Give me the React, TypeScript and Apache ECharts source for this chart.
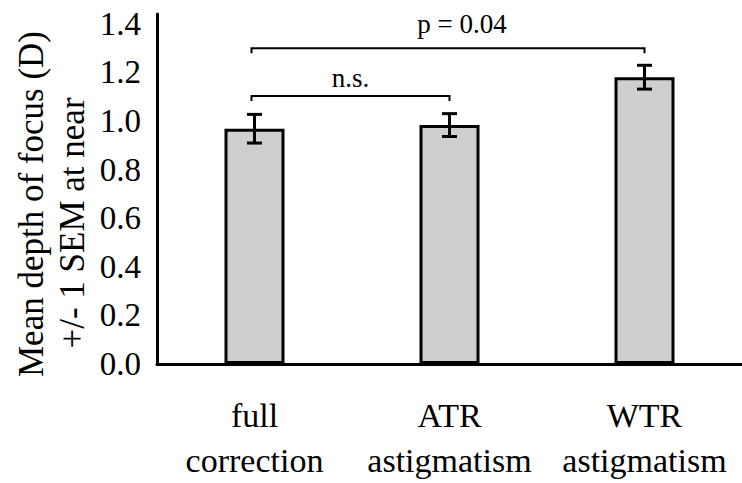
import { useEffect, useRef } from "react";
import * as echarts from "echarts";

// Mean depth of focus at near for each correction condition
const categories = ["full\ncorrection", "ATR\nastigmatism", "WTR\nastigmatism"];
const meanDof = [0.968, 0.983, 1.18];
const sem = [0.059, 0.047, 0.049];

// Significance brackets between conditions
const bracketFrom = [0, 0];
const bracketTo = [1, 2];
const bracketLevel = [1.103, 1.299];
const bracketLabel = ["n.s.", "p = 0.04"];
const labelLevel = [1.178, 1.4];

const yTitle = ["Mean depth of focus (D)", "+/- 1 SEM at near"];

const FONT = "Liberation Serif";

export default function App() {
  const ref = useRef<HTMLDivElement>(null);

  useEffect(() => {
    if (!ref.current) return;
    const chart = echarts.init(ref.current, undefined, { renderer: "svg" });

    const errorData = meanDof.map((m, i) => [i, m - sem[i], m + sem[i]]);
    const bracketData = bracketFrom.map((f, i) => [f, bracketTo[i], bracketLevel[i], labelLevel[i], i]);
    const labelShift = [0, 14];

    const option: echarts.EChartsOption = {
      animation: false,
      backgroundColor: "#ffffff",
      textStyle: { fontFamily: FONT },
      grid: { left: 157, right: 0, top: 14, bottom: 112.5, containLabel: false },
      xAxis: {
        type: "category",
        data: categories,
        axisLine: { show: true, lineStyle: { color: "#000", width: 3 } },
        axisTick: { show: false },
        splitLine: { show: false },
        axisLabel: {
          color: "#000",
          fontFamily: FONT,
          fontSize: 34,
          lineHeight: 45,
          margin: 29,
          interval: 0,
        },
      },
      yAxis: {
        type: "value",
        min: 0,
        max: 1.44,
        interval: 0.2,
        axisLine: { show: true, lineStyle: { color: "#000", width: 3 } },
        axisTick: { show: false },
        splitLine: { show: false },
        axisLabel: {
          color: "#000",
          fontFamily: FONT,
          fontSize: 33,
          margin: 16,
          showMaxLabel: false,
          formatter: (v: number) => (v > 1.41 ? "" : v.toFixed(1)),
        },
      },
      graphic: [
        {
          type: "text",
          x: 31,
          y: 204,
          rotation: Math.PI / 2,
          style: {
            text: yTitle[0],
            fontFamily: FONT,
            fontSize: 35,
            fill: "#000",
            align: "center",
            verticalAlign: "middle",
          },
        },
        {
          type: "text",
          x: 72,
          y: 223,
          rotation: Math.PI / 2,
          style: {
            text: yTitle[1],
            fontFamily: FONT,
            fontSize: 35,
            fill: "#000",
            align: "center",
            verticalAlign: "middle",
          },
        },
      ],
      series: [
        {
          type: "bar",
          data: meanDof,
          barWidth: 60,
          itemStyle: { color: "#d0cece", borderColor: "#000", borderWidth: 3 },
          z: 2,
        },
        {
          type: "custom",
          data: errorData,
          encode: { x: 0, y: [1, 2] },
          z: 3,
          renderItem: (params: any, api: any) => {
            const x = api.value(0);
            const lo = api.coord([x, api.value(1)]);
            const hi = api.coord([x, api.value(2)]);
            const half = 7.5;
            const st = { stroke: "#000", lineWidth: 3 };
            return {
              type: "group",
              children: [
                { type: "line", shape: { x1: hi[0], y1: hi[1], x2: lo[0], y2: lo[1] }, style: st },
                { type: "line", shape: { x1: hi[0] - half, y1: hi[1], x2: hi[0] + half, y2: hi[1] }, style: st },
                { type: "line", shape: { x1: lo[0] - half, y1: lo[1], x2: lo[0] + half, y2: lo[1] }, style: st },
              ],
            };
          },
        },
        {
          type: "custom",
          data: bracketData,
          encode: { x: [0, 1], y: [2, 3] },
          z: 3,
          renderItem: (params: any, api: any) => {
            const a = api.coord([api.value(0), api.value(2)]);
            const b = api.coord([api.value(1), api.value(2)]);
            const t = api.coord([api.value(0), api.value(3)]);
            const idx = api.value(4);
            const drop = 5;
            const x1 = a[0] - 3;
            const x2 = b[0];
            const mid = (x1 + x2) / 2 + labelShift[idx];
            return {
              type: "group",
              children: [
                {
                  type: "polyline",
                  shape: {
                    points: [
                      [x1, a[1] + drop],
                      [x1, a[1]],
                      [x2, a[1]],
                      [x2, a[1] + drop],
                    ],
                  },
                  style: { stroke: "#000", lineWidth: 2, fill: "none" },
                },
                {
                  type: "text",
                  x: mid,
                  y: t[1],
                  style: {
                    text: bracketLabel[idx],
                    fontFamily: FONT,
                    fontSize: 27,
                    fill: "#000",
                    align: "center",
                    verticalAlign: "middle",
                  },
                },
              ],
            };
          },
        },
      ],
    };

    chart.setOption(option);
    return () => chart.dispose();
  }, []);

  return (
    <div
      ref={ref}
      style={{ position: "fixed", left: 0, top: 0, width: 742, height: 483, background: "#fff" }}
    />
  );
}
